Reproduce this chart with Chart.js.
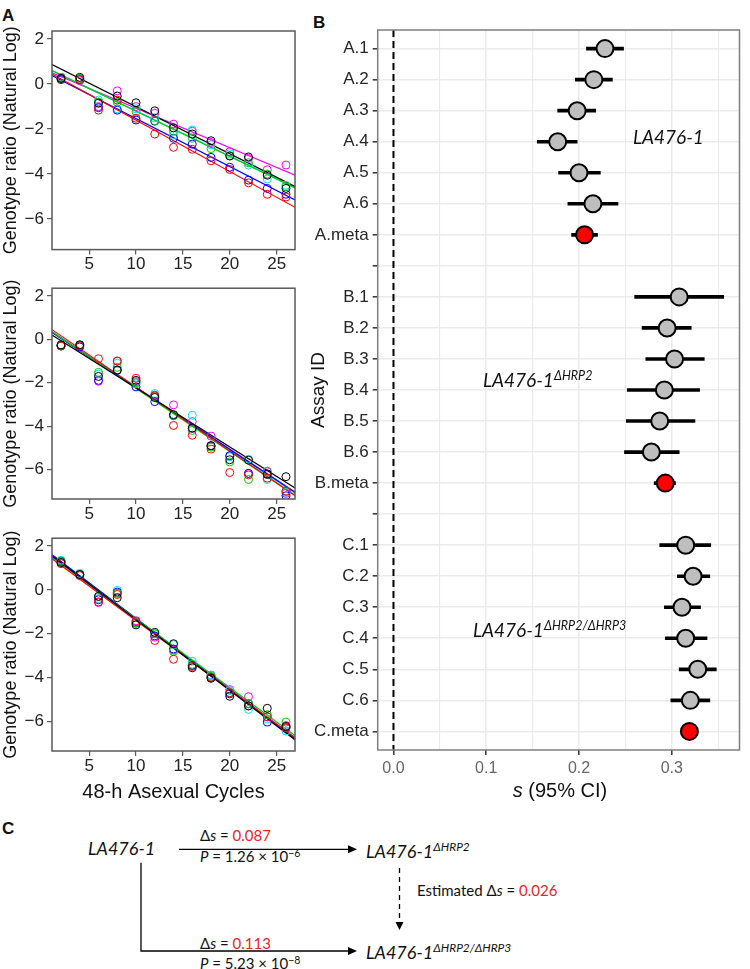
<!DOCTYPE html>
<html>
<head>
<meta charset="utf-8">
<title>Competitive fitness of LA476-1 HRP deletion lines</title>
<script src="https://cdn.jsdelivr.net/npm/chart.js@4.4.1/dist/chart.umd.min.js"></script>
<style>
  body { margin: 0; width: 750px; height: 969px; position: relative; overflow: hidden; background: #fff;
         font-family: "Liberation Sans", Arial, sans-serif; color: #111; }
  canvas { position: absolute; }
  .tag { position: absolute; font-weight: bold; font-size: 17px; line-height: 20px; }
  .txt { position: absolute; white-space: nowrap; font-family: Lato, "Open Sans", sans-serif; }
  .strain { font-style: italic; }
  .strain sup { font-size: 0.66em; vertical-align: 0.55em; line-height: 0; }
  .note sup { font-size: 0.7em; vertical-align: 0.5em; line-height: 0; }
  .red { color: #e8251f; }
  svg { position: absolute; }
</style>
</head>
<body>
<div class="tag" style="left:2px;top:6px">A</div>
<div class="tag" style="left:313px;top:13px">B</div>
<div class="tag" style="left:2px;top:819px">C</div>

<canvas id="ratioTop" width="300" height="275" style="left:0;top:0"></canvas>
<canvas id="ratioMid" width="300" height="250" style="left:0;top:275px"></canvas>
<canvas id="ratioBot" width="300" height="295" style="left:0;top:525px"></canvas>
<canvas id="forest" width="450" height="780" style="left:300px;top:0"></canvas>

<div class="txt" style="left:560px;top:778px;transform:translateX(-50%);font-family:'Liberation Sans',Arial,sans-serif;font-size:20px;line-height:24px;color:#111"><i>s</i> (95% CI)</div>

<div class="txt strain" style="left:633px;top:125px;font-size:19px;line-height:24px">LA476-1</div>
<div class="txt strain" style="left:483px;top:368px;font-size:19px;line-height:24px">LA476-1<sup>ΔHRP2</sup></div>
<div class="txt strain" style="left:473px;top:618px;font-size:19px;line-height:24px">LA476-1<sup>ΔHRP2/ΔHRP3</sup></div>

<!-- panel C -->
<svg width="750" height="149" style="left:0;top:820px">
  <g stroke="#000" stroke-width="1.3" fill="none">
    <line x1="179" y1="29.3" x2="350" y2="29.3"/>
    <polyline points="141,42.7 141,131 350,131"/>
    <line x1="399.5" y1="48" x2="399.5" y2="103" stroke-dasharray="5 4"/>
  </g>
  <g fill="#000">
    <polygon points="348,25.3 357,29.3 348,33.3"/>
    <polygon points="348,127 357,131 348,135"/>
    <polygon points="395.5,102 399.5,110 403.5,102"/>
  </g>
</svg>
<div class="txt strain" style="left:88px;top:837px;font-size:18px;line-height:22px">LA476-1</div>
<div class="txt note" style="left:200px;top:825px;font-size:15px;line-height:20px">Δ<i>s</i> = <span class="red">0.087</span></div>
<div class="txt note" style="left:200px;top:846px;font-size:15px;line-height:20px"><i>P</i> = 1.26 × 10<sup>−6</sup></div>
<div class="txt strain" style="left:366px;top:840px;font-size:18px;line-height:22px">LA476-1<sup>ΔHRP2</sup></div>
<div class="txt note" style="left:417px;top:880px;font-size:15px;line-height:20px">Estimated Δ<i>s</i> = <span class="red">0.026</span></div>
<div class="txt note" style="left:200px;top:933px;font-size:15px;line-height:20px">Δ<i>s</i> = <span class="red">0.113</span></div>
<div class="txt note" style="left:200px;top:953px;font-size:15px;line-height:20px"><i>P</i> = 5.23 × 10<sup>−8</sup></div>
<div class="txt strain" style="left:366px;top:941px;font-size:18px;line-height:22px">LA476-1<sup>ΔHRP2/ΔHRP3</sup></div>

<script>
// ---- panel A: genotype ratio over asexual cycles, one row per replicate ----
const cycles = [2, 4, 6, 8, 10, 12, 14, 16, 18, 20, 22, 24, 26];
const cycleTicks = [5, 10, 15, 20, 25];
const ratioTicks = [-6, -4, -2, 0, 2];
const cycleRange = [1.04, 26.96];
const ratioRange = [-7.36, 2.36];
const replicateColors = ['#000000', '#ff0000', '#00cd00', '#0000ff', '#00e0e8', '#ff00ff'];

// LA476-1
const topRatios = [
  [0.25, 0.30, -0.85, -0.53, -0.83, -1.19, -1.95, -2.22, -2.52, -3.20, -3.24, -4.05, -4.64],
  [0.25, 0.20, -1.16, -0.71, -1.52, -2.22, -2.81, -2.90, -3.41, -3.80, -4.39, -4.90, -5.02],
  [0.30, 0.25, -0.80, -0.80, -1.23, -1.63, -2.10, -2.41, -2.87, -3.18, -3.50, -4.00, -4.56],
  [0.20, 0.20, -1.05, -1.16, -1.60, -1.65, -2.41, -2.67, -3.26, -3.70, -4.27, -4.64, -4.90],
  [0.30, 0.25, -0.71, -1.10, -1.10, -1.50, -2.27, -2.04, -2.70, -3.10, -3.60, -4.22, -4.50],
  [0.30, 0.15, -1.00, -0.30, -1.00, -1.30, -1.78, -2.10, -2.60, -3.01, -3.30, -3.81, -3.60]
];
const topFitEnds = [[0.87, -4.55], [0.45, -5.48], [0.60, -4.62], [0.38, -5.15], [0.60, -4.60], [0.50, -4.05]];

// LA476-1 dHRP2
const midRatios = [
  [-0.25, -0.25, -1.71, -1.41, -1.89, -2.68, -3.47, -4.09, -4.91, -5.55, -5.57, -6.23, -6.33],
  [-0.30, -0.30, -0.89, -1.00, -1.79, -2.60, -3.97, -4.42, -5.06, -6.14, -6.25, -6.40, -7.00],
  [-0.30, -0.25, -1.52, -1.29, -2.00, -2.64, -3.52, -4.20, -4.97, -5.65, -6.46, -6.08, -7.00],
  [-0.30, -0.35, -1.89, -1.43, -2.19, -2.87, -3.50, -4.10, -4.90, -5.36, -6.18, -6.20, -7.21],
  [-0.30, -0.30, -1.60, -1.10, -2.05, -2.50, -3.50, -3.50, -4.90, -5.40, -5.53, -6.46, -7.05],
  [-0.30, -0.30, -1.93, -1.00, -1.95, -2.57, -3.02, -3.79, -4.46, -5.40, -6.18, -6.10, -7.10]
];
const midFitEnds = [[0.20, -6.85], [0.45, -7.20], [0.35, -7.20], [0.32, -7.05], [0.35, -7.10], [0.35, -7.05]];

// LA476-1 dHRP2/dHRP3
const botRatios = [
  [1.25, 0.70, -0.30, -0.36, -1.60, -1.94, -2.46, -3.56, -4.04, -4.86, -5.30, -5.41, -6.24],
  [1.20, 0.65, -0.55, -0.21, -1.45, -2.31, -3.17, -3.50, -4.00, -4.70, -5.30, -5.80, -6.30],
  [1.30, 0.70, -0.30, -0.15, -1.50, -2.00, -2.81, -3.40, -3.95, -4.70, -5.20, -5.70, -6.04],
  [1.30, 0.70, -0.45, -0.10, -1.52, -2.10, -2.70, -3.45, -4.00, -4.75, -5.20, -6.04, -6.30],
  [1.35, 0.75, -0.40, -0.02, -1.50, -2.00, -2.50, -3.26, -3.90, -4.60, -5.46, -5.90, -6.45],
  [1.30, 0.70, -0.58, -0.15, -1.41, -2.16, -2.75, -3.45, -3.89, -4.56, -4.88, -5.80, -6.20]
];
const botFitEnds = [[1.55, -6.85], [1.42, -6.75], [1.50, -6.65], [1.60, -6.80], [1.60, -6.85], [1.50, -6.75]];

// ---- panel B: selection coefficient per assay ----
const assayRows = ['A.1', 'A.2', 'A.3', 'A.4', 'A.5', 'A.6', 'A.meta', '',
                   'B.1', 'B.2', 'B.3', 'B.4', 'B.5', 'B.6', 'B.meta', ' ',
                   'C.1', 'C.2', 'C.3', 'C.4', 'C.5', 'C.6', 'C.meta'];
const sEstimate = [0.228, 0.216, 0.198, 0.177, 0.200, 0.215, 0.206, null,
                   0.308, 0.295, 0.303, 0.292, 0.287, 0.278, 0.293, null,
                   0.315, 0.323, 0.311, 0.315, 0.328, 0.320, 0.319];
const ciLow = [0.208, 0.196, 0.177, 0.155, 0.178, 0.188, 0.192, null,
               0.260, 0.268, 0.272, 0.252, 0.251, 0.249, 0.281, null,
               0.287, 0.306, 0.292, 0.293, 0.308, 0.299, 0.313];
const ciHigh = [0.248, 0.236, 0.218, 0.198, 0.223, 0.242, 0.220, null,
                0.356, 0.321, 0.335, 0.330, 0.325, 0.308, 0.304, null,
                0.342, 0.341, 0.331, 0.338, 0.348, 0.341, 0.325];
const sTicks = [0, 0.05, 0.1, 0.15, 0.2, 0.25, 0.3, 0.35];
const sRange = [-0.017, 0.373];

Chart.defaults.font.family = '"Liberation Sans", Arial, sans-serif';

// box around the plotting area (R box() / ggplot panel.border)
const frame = {
  id: 'frame',
  afterDraw(chart, args, opts) {
    const { ctx, chartArea: a } = chart;
    ctx.save();
    ctx.strokeStyle = opts.color;
    ctx.lineWidth = opts.width;
    ctx.strokeRect(a.left, a.top, a.right - a.left, a.bottom - a.top);
    ctx.restore();
  }
};

function ratioPlot(id, ratios, fitEnds, padTop, axisHeight, showTitle) {
  const datasets = [];
  ratios.forEach((row, r) => {
    datasets.push({
      data: cycles.map((c, i) => ({ x: c, y: row[i] })),
      showLine: false, pointRadius: 4, pointBorderWidth: 1,
      pointBorderColor: replicateColors[r], pointBackgroundColor: 'rgba(0,0,0,0)'
    });
  });
  fitEnds.forEach((ends, r) => {
    datasets.push({
      data: [{ x: cycleRange[0], y: ends[0] }, { x: cycleRange[1], y: ends[1] }],
      showLine: true, borderColor: replicateColors[r], borderWidth: 1.2, pointRadius: 0
    });
  });

  return new Chart(document.getElementById(id), {
    type: 'scatter',
    data: { datasets },
    options: {
      responsive: false, animation: false, events: [],
      layout: { padding: { top: padTop, right: 5, left: 0, bottom: 0 } },
      plugins: { legend: { display: false }, tooltip: { enabled: false }, frame: { color: '#595959', width: 1.5 } },
      scales: {
        x: {
          type: 'linear', min: cycleRange[0], max: cycleRange[1],
          afterBuildTicks: s => { s.ticks = cycleTicks.map(v => ({ value: v })); },
          afterFit: s => { s.height = axisHeight; },
          grid: { drawOnChartArea: false, tickLength: 5, color: '#595959', lineWidth: 1.2 },
          border: { display: false },
          ticks: { color: '#222', font: { size: 17 }, padding: 0, maxRotation: 0, autoSkip: false },
          title: { display: showTitle, text: '48-h Asexual Cycles', color: '#111', font: { size: 20 }, padding: { top: 0, bottom: 16 } }
        },
        y: {
          type: 'linear', min: ratioRange[0], max: ratioRange[1],
          afterBuildTicks: s => { s.ticks = ratioTicks.map(v => ({ value: v })); },
          afterFit: s => { s.width = 52; },
          grid: { drawOnChartArea: false, tickLength: 5, color: '#595959', lineWidth: 1.2 },
          border: { display: false },
          ticks: { color: '#222', font: { size: 17 }, padding: 3, autoSkip: false,
                   callback: v => v < 0 ? '\u2212' + Math.abs(v) : String(v) },
          title: { display: true, text: 'Genotype ratio (Natural Log)', color: '#111', font: { size: 18 }, padding: { top: 0, bottom: 0 } }
        }
      }
    },
    plugins: [frame]
  });
}

ratioPlot('ratioTop', topRatios, topFitEnds, 31, 25.4, false);
ratioPlot('ratioMid', midRatios, midFitEnds, 6.7, 26, false);
ratioPlot('ratioBot', botRatios, botFitEnds, 8, 69, true);

// forest plot
const points = [];
const pointFill = [];
const ciBars = [];
assayRows.forEach((row, i) => {
  if (sEstimate[i] === null) return;
  points.push({ x: sEstimate[i], y: i });
  pointFill.push(row.endsWith('meta') ? '#ff0000' : '#bebebe');
  ciBars.push({ x: [ciLow[i], ciHigh[i]], y: i });
});
const isMajor = v => Math.abs(v * 10 - Math.round(v * 10)) < 1e-6;

new Chart(document.getElementById('forest'), {
  type: 'bar',
  data: {
    datasets: [
      { type: 'scatter', order: 0, data: points, pointRadius: 8.5, pointBorderWidth: 2,
        pointBorderColor: '#000', pointBackgroundColor: pointFill },
      { type: 'bar', order: 1, data: ciBars, backgroundColor: '#000', barThickness: 3, borderWidth: 0 },
      { type: 'scatter', order: 2, data: [{ x: 0, y: -0.6 }, { x: 0, y: assayRows.length - 0.4 }],
        showLine: true, borderColor: '#000', borderWidth: 2, borderDash: [7, 4], pointRadius: 0 }
    ]
  },
  options: {
    indexAxis: 'y',
    responsive: false, animation: false, events: [],
    layout: { padding: { top: 30, right: 2, left: 0, bottom: 0 } },
    plugins: { legend: { display: false }, tooltip: { enabled: false }, frame: { color: '#7f7f7f', width: 1.5 } },
    scales: {
      x: {
        type: 'linear', min: sRange[0], max: sRange[1],
        afterBuildTicks: s => { s.ticks = sTicks.map(v => ({ value: v })); },
        afterFit: s => { s.height = 30; },
        grid: {
          color: '#ebebeb', tickLength: 5,
          lineWidth: c => isMajor(c.tick.value) ? 1.6 : 1.1,
          tickColor: c => isMajor(c.tick.value) ? '#333' : 'rgba(0,0,0,0)',
          tickWidth: 1.5
        },
        border: { display: false },
        ticks: { color: '#666', font: { size: 16 }, padding: 4, maxRotation: 0, autoSkip: false,
                 callback: v => isMajor(v) ? v.toFixed(1) : '' }
      },
      y: {
        type: 'linear', reverse: true, offset: false, min: -0.6, max: assayRows.length - 0.4,
        afterBuildTicks: s => { s.ticks = assayRows.map((_, i) => ({ value: i })); },
        afterFit: s => { s.width = 77.7; },
        grid: { color: '#ebebeb', lineWidth: 1.6, offset: false, tickLength: 5, tickColor: '#333', tickWidth: 1.5 },
        border: { display: false },
        ticks: { color: '#262626', font: { size: 17 }, padding: 4, autoSkip: false,
                 callback: v => assayRows[v] || '' },
        title: { display: true, text: 'Assay ID', color: '#111', font: { size: 19 }, padding: { top: 7, bottom: 0 } }
      }
    }
  },
  plugins: [frame]
});
</script>
</body>
</html>
